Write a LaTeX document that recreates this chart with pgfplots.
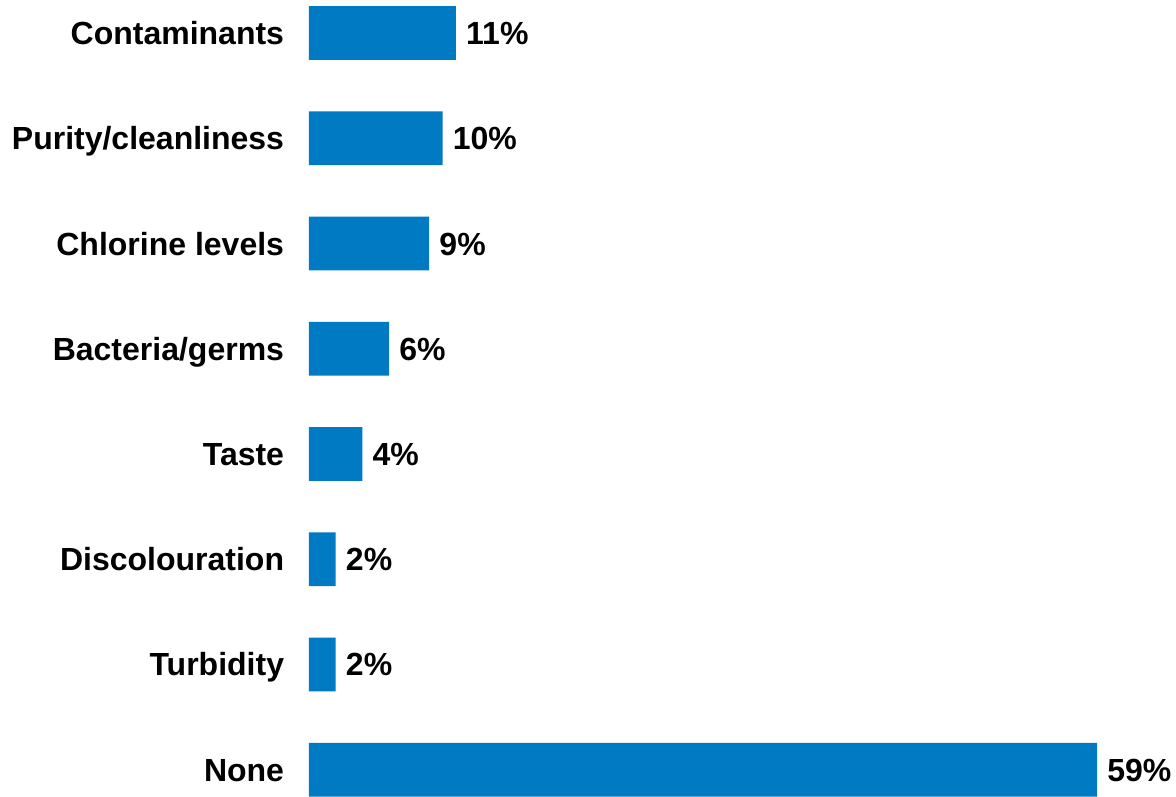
\documentclass[border=0pt]{standalone}
\usepackage{fontspec}
\setmainfont{Liberation Sans}
\usepackage{pgfplots}
\pgfplotsset{compat=1.18}
\definecolor{barblue}{RGB}{0,123,195}
\begin{document}
\fontsize{24}{28}\selectfont\bfseries
\begin{tikzpicture}
\begin{axis}[
  scale only axis,
  width=591pt, height=592pt,
  xbar, bar width=0.51,
  xmin=0, xmax=59,
  ymin=-0.25, ymax=7.25,
  y dir=reverse,
  axis line style={draw=none},
  tick style={draw=none},
  xtick=\empty,
  ytick={0,1,2,3,4,5,6,7},
  yticklabels={Contaminants,Purity/cleanliness,Chlorine levels,Bacteria/germs,Taste,Discolouration,Turbidity,None},
  yticklabel style={font=\fontsize{24}{28}\selectfont\bfseries, inner sep=0pt, text depth=0pt, text height=17.3pt, xshift=-14.25pt},
  point meta=x,
  /pgf/number format/assume math mode=true,
  nodes near coords={\pgfmathprintnumber{\pgfplotspointmeta}\%},
  nodes near coords style={font=\fontsize{24}{28}\selectfont\bfseries, anchor=west, inner sep=0pt, text depth=0pt, text height=17.3pt, xshift=7.5pt},
  clip=false,
]
\addplot[draw=none, fill=barblue] coordinates {
  (11,0) (10,1) (9,2) (6,3) (4,4) (2,5) (2,6) (59,7)
};
\end{axis}
\path (current axis.south west) ++(-231.75pt,0) rectangle ++(882pt,597pt);
\end{tikzpicture}
\end{document}
